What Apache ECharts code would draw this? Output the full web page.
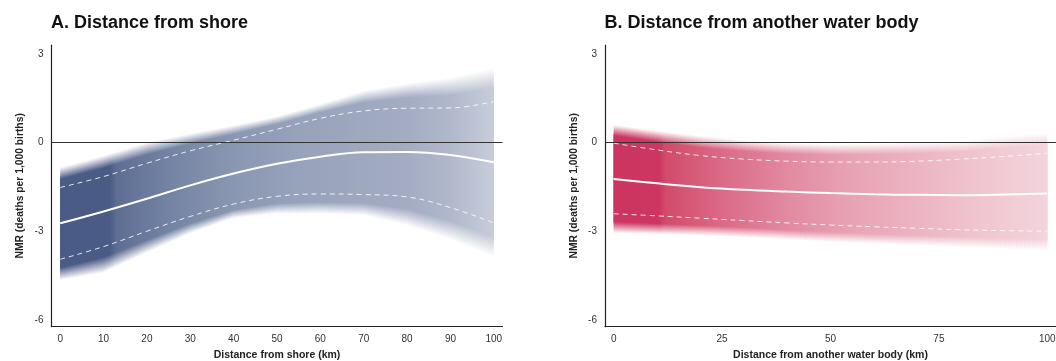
<!DOCTYPE html>
<html>
<head>
<meta charset="utf-8">
<script src="https://cdn.jsdelivr.net/npm/echarts@6/dist/echarts.min.js"></script>
<style>
  html, body { margin: 0; padding: 0; background: #ffffff; }
  #chart { width: 1056px; height: 361px; }
</style>
</head>
<body>
<div id="chart"></div>
<script>
// Distance (km) at which each curve is sampled
const km = [0, 10, 20, 30, 40, 50, 60, 70, 80, 90, 100];

// Panel A: distance from shore
const shoreFit     = [-2.73, -2.33, -1.90, -1.45, -1.05, -0.72, -0.48, -0.33, -0.32, -0.42, -0.67];
const shoreUpper   = [-1.52, -1.15, -0.70, -0.28, 0.08, 0.45, 0.82, 1.07, 1.16, 1.17, 1.39];
const shoreLower   = [-3.95, -3.52, -3.00, -2.50, -2.08, -1.82, -1.74, -1.76, -1.84, -2.20, -2.72];
const shoreOuterUp = [-0.85, -0.45, 0.00, 0.30, 0.58, 0.88, 1.30, 1.75, 2.00, 2.20, 2.52];
const shoreOuterLo = [-4.65, -4.40, -3.72, -3.07, -2.55, -2.40, -2.40, -2.45, -2.80, -3.28, -3.88];

// Panel B: distance from another water body
const waterFit     = [-1.23, -1.38, -1.51, -1.60, -1.66, -1.71, -1.75, -1.77, -1.78, -1.76, -1.72];
const waterUpper   = [-0.02, -0.25, -0.44, -0.56, -0.63, -0.66, -0.66, -0.63, -0.56, -0.47, -0.36];
const waterLower   = [-2.41, -2.48, -2.56, -2.64, -2.72, -2.79, -2.85, -2.90, -2.95, -2.98, -3.00];
const waterOuterUp = [0.60, 0.40, 0.22, 0.08, -0.02, -0.06, -0.04, 0.00, 0.06, 0.20, 0.34];
const waterOuterLo = [-3.06, -3.10, -3.14, -3.20, -3.28, -3.36, -3.42, -3.48, -3.54, -3.60, -3.68];

// Tick labels
const shoreTicks = [0, 10, 20, 30, 40, 50, 60, 70, 80, 90, 100];
const waterTicks = [0, 25, 50, 75, 100];
const nmrTicks = [-6, -3, 0, 3];

const titles = ['A. Distance from shore', 'B. Distance from another water body'];
const xNames = ['Distance from shore (km)', 'Distance from another water body (km)'];
const yName = 'NMR (deaths per 1,000 births)';

// Band shading along the distance axis
const shoreShade = [
  [0, '#4a5c85'], [0.115, '#4a5c85'], [0.13, '#5e6e93'], [0.25, '#7483a3'],
  [0.4, '#8a97b2'], [0.55, '#97a2bb'], [0.7, '#9ea8bf'], [0.8, '#a3acc2'],
  [0.9, '#b0b8cb'], [1, '#c7cdda']
];
const waterShade = [
  [0, '#cb3560'], [0.105, '#cc3660'], [0.12, '#d24b6b'], [0.25, '#db6a86'],
  [0.4, '#e18aa0'], [0.55, '#e7a3b4'], [0.7, '#ecb4c2'], [0.85, '#f0c6d0'],
  [1, '#f3d4dc']
];

const FONT = '"Liberation Sans", Arial, Helvetica, sans-serif';
const LAYERS = 30;
const REACH = 0.6;

function pairs(xs, ys) { return xs.map((x, i) => [x, ys[i]]); }

// Fading uncertainty band: stacked layers between the outer edge and the CI edge
function bandRenderer(xs, ciUp, ciLo, outUp, outLo, shade) {
  const fill = {
    type: 'linear', x: 0, y: 0, x2: 1, y2: 0,
    colorStops: shade.map(s => ({ offset: s[0], color: s[1] }))
  };
  return function (params, api) {
    const children = [];
    for (let k = 0; k < LAYERS; k++) {
      const t = REACH * k / LAYERS;
      const top = [], bot = [];
      for (let i = 0; i < xs.length; i++) {
        top.push(api.coord([xs[i], outUp[i] + (ciUp[i] - outUp[i]) * t]));
        bot.push(api.coord([xs[i], outLo[i] + (ciLo[i] - outLo[i]) * t]));
      }
      children.push({
        type: 'polygon',
        silent: true,
        shape: { points: top.concat(bot.reverse()) },
        style: { fill: fill, opacity: 1 / (LAYERS - k) }
      });
    }
    return { type: 'group', children: children };
  };
}

function xAxisFor(idx, ticks) {
  return {
    gridIndex: idx, type: 'value', min: -2, max: 102,
    axisLine: { show: true, onZero: false, lineStyle: { color: '#222', width: 1.2 } },
    axisTick: { show: false },
    splitLine: { show: false },
    axisLabel: { customValues: ticks, color: '#333', fontSize: 10, fontFamily: FONT, margin: 8 },
    name: xNames[idx], nameLocation: 'middle', nameGap: 21,
    nameTextStyle: { fontSize: 10.5, fontWeight: 'bold', color: '#222', fontFamily: FONT }
  };
}
function yAxisFor(idx) {
  return {
    gridIndex: idx, type: 'value', min: -6.23, max: 3.3,
    axisLine: { show: true, onZero: false, lineStyle: { color: '#222', width: 1.2 } },
    axisTick: { show: false },
    splitLine: { show: false },
    axisLabel: { customValues: nmrTicks, color: '#333', fontSize: 10, fontFamily: FONT, margin: 8 },
    name: yName, nameLocation: 'middle', nameGap: 26,
    nameTextStyle: { fontSize: 10.3, fontWeight: 'bold', color: '#222', fontFamily: FONT }
  };
}

function panelSeries(idx, fit, up, lo, outUp, outLo, shade) {
  const base = { xAxisIndex: idx, yAxisIndex: idx, silent: true };
  return [
    Object.assign({}, base, {
      type: 'line', data: [], z: 1,
      markLine: {
        silent: true, symbol: ['none', 'none'], label: { show: false },
        lineStyle: { color: '#333', width: 1, type: 'solid' },
        data: [{ yAxis: 0 }]
      }
    }),
    Object.assign({}, base, {
      type: 'custom', z: 2, data: [[0, 0]],
      renderItem: bandRenderer(km, up, lo, outUp, outLo, shade)
    }),
    Object.assign({}, base, {
      type: 'line', z: 3, data: pairs(km, up), smooth: 0.4, symbol: 'none',
      lineStyle: { color: 'rgba(255,255,255,0.85)', width: 1, type: [5, 4] }
    }),
    Object.assign({}, base, {
      type: 'line', z: 3, data: pairs(km, lo), smooth: 0.4, symbol: 'none',
      lineStyle: { color: 'rgba(255,255,255,0.85)', width: 1, type: [5, 4] }
    }),
    Object.assign({}, base, {
      type: 'line', z: 4, data: pairs(km, fit), smooth: 0.4, symbol: 'none',
      lineStyle: { color: '#ffffff', width: 2 }
    })
  ];
}

const chart = echarts.init(document.getElementById('chart'), null, { renderer: 'canvas' });
chart.setOption({
  animation: false,
  backgroundColor: '#ffffff',
  title: titles.map((t, i) => ({
    text: t, left: i === 0 ? 51 : 604.5, top: 14.5, padding: 0,
    textStyle: { fontSize: 18, fontWeight: 'bold', color: '#111', fontFamily: FONT, lineHeight: 18 }
  })),
  grid: [
    { left: 51.5, top: 45, width: 451, height: 281.7, outerBoundsMode: 'none' },
    { left: 605, top: 45, width: 451, height: 281.7, outerBoundsMode: 'none' }
  ],
  xAxis: [xAxisFor(0, shoreTicks), xAxisFor(1, waterTicks)],
  yAxis: [yAxisFor(0), yAxisFor(1)],
  series: [].concat(
    panelSeries(0, shoreFit, shoreUpper, shoreLower, shoreOuterUp, shoreOuterLo, shoreShade),
    panelSeries(1, waterFit, waterUpper, waterLower, waterOuterUp, waterOuterLo, waterShade)
  )
});
</script>
</body>
</html>
